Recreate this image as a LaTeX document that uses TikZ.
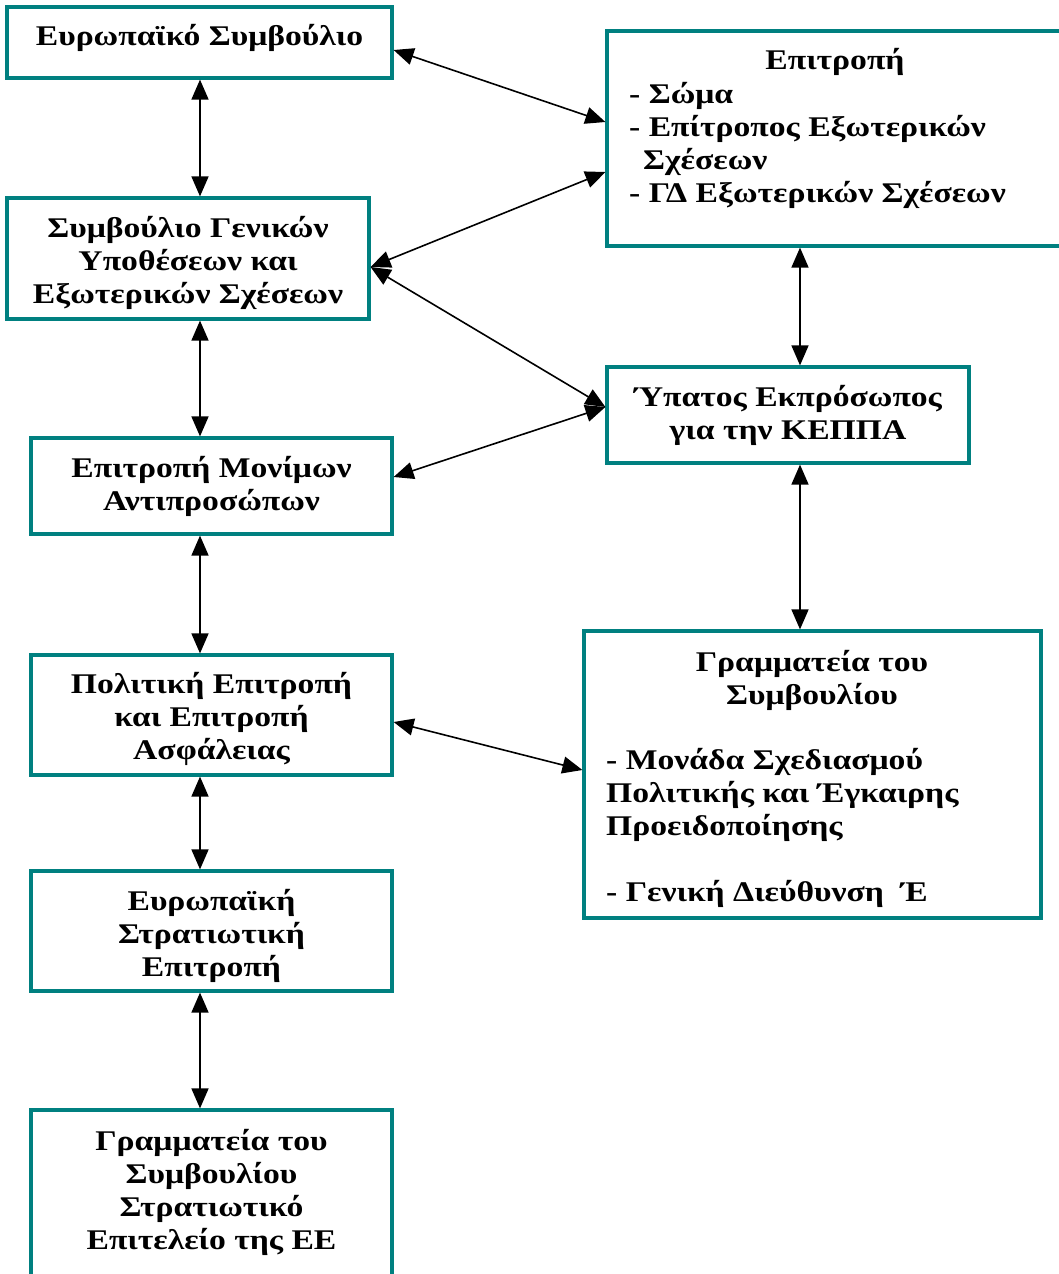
\documentclass[tikz,border=0pt]{standalone}
\usepackage{fontspec}
\setmainfont{Liberation Serif}[FakeStretch=1.18]
\usetikzlibrary{arrows.meta,calc}
\definecolor{boxteal}{RGB}{0,128,128}
\begin{document}
\begin{tikzpicture}[x=1pt,y=-1pt,
  box/.style={draw=boxteal, line width=3.2pt, fill=white, inner sep=0pt},
  txt/.style={font=\fontsize{28.5}{33}\selectfont\bfseries, align=center, inner sep=0pt},
  lst/.style={font=\fontsize{28.5}{33}\selectfont\bfseries, align=left, inner sep=0pt, anchor=west},
  link/.style={line width=1.6pt, {Triangle[length=20pt,width=17pt]}-{Triangle[length=20pt,width=17pt]}}]
\useasboundingbox (0,0) rectangle (1058,1274);
\fill[white] (0,0) rectangle (1058,1274);
% left column
\node[box, minimum width=385pt, minimum height=71pt] (b1) at (199.5,42.5) {};
\node[txt] (b1t) at (199.5,37.5) {Ευρωπαϊκό Συμβούλιο};
\node[box, minimum width=362pt, minimum height=121pt] (b2) at (188,258.5) {};
\node[txt] (b2t) at (188,262.5) {Συμβούλιο Γενικών\\Υποθέσεων και\\Εξωτερικών Σχέσεων};
\node[box, minimum width=361pt, minimum height=96pt] (b3) at (211.5,486) {};
\node[txt] (b3t) at (211.5,486) {Επιτροπή Μονίμων\\Αντιπροσώπων};
\node[box, minimum width=361pt, minimum height=120pt] (b4) at (211.5,715) {};
\node[txt] (b4t) at (211.5,719) {Πολιτική Επιτροπή\\και Επιτροπή\\Ασφάλειας};
\node[box, minimum width=361pt, minimum height=120pt] (b5) at (211.5,931) {};
\node[txt] (b5t) at (211.5,935.5) {Ευρωπαϊκή\\Στρατιωτική\\Επιτροπή};
\node[box, minimum width=361pt, minimum height=190pt] (b6) at (211.5,1205) {};
\node[txt] (b6t) at (211.5,1192) {Γραμματεία του\\Συμβουλίου\\Στρατιωτικό\\Επιτελείο της ΕΕ};
% right column
\node[box, minimum width=463pt, minimum height=215pt] (r1) at (838.5,138.5) {};
\node[txt] (r1t) at (835,62) {Επιτροπή};
\node[lst] (r1l) at (629,145.5) {- Σώμα\\- Επίτροπος Εξωτερικών\\\hspace*{14pt}Σχέσεων\\- ΓΔ Εξωτερικών Σχέσεων};
\node[box, minimum width=362pt, minimum height=96pt] (r2) at (788,415) {};
\node[txt] (r2t) at (788,415) {Ύπατος Εκπρόσωπος\\για την ΚΕΠΠΑ};
\node[box, minimum width=457pt, minimum height=287pt] (r3) at (812.5,774.5) {};
\node[txt] (r3t) at (812,680) {Γραμματεία του\\Συμβουλίου};
\node[lst] (r3l) at (606,828) {- Μονάδα Σχεδιασμού\\Πολιτικής και Έγκαιρης\\Προειδοποίησης\\\mbox{}\\- Γενική Διεύθυνση\ \ Έ};
% connectors
\coordinate (xl) at (200,0);
\coordinate (xr) at (800,0);
\draw[link] (xl |- b1.south) -- (xl |- b2.north);
\draw[link] (xl |- b2.south) -- (xl |- b3.north);
\draw[link] (xl |- b3.south) -- (xl |- b4.north);
\draw[link] (xl |- b4.south) -- (xl |- b5.north);
\draw[link] (xl |- b5.south) -- (xl |- b6.north);
\draw[link] (xr |- r1.south) -- (xr |- r2.north);
\draw[link] (xr |- r2.south) -- (xr |- r3.north);
\draw[link] ($(b1.east)+(0,7.5)$) -- ($(r1.west)+(0,-16.5)$);
\draw[link] ($(r1.west)+(0,33.5)$) -- ($(b2.east)+(0,8.5)$);
\draw[link] ($(b2.east)+(0,8.5)$) -- ($(r2.west)+(0,-8)$);
\draw[link] ($(r2.west)+(0,-8)$) -- ($(b3.east)+(0,-9)$);
\draw[link] ($(b4.east)+(0,7)$) -- ($(r3.west)+(0,-4.5)$);
\end{tikzpicture}
\end{document}
